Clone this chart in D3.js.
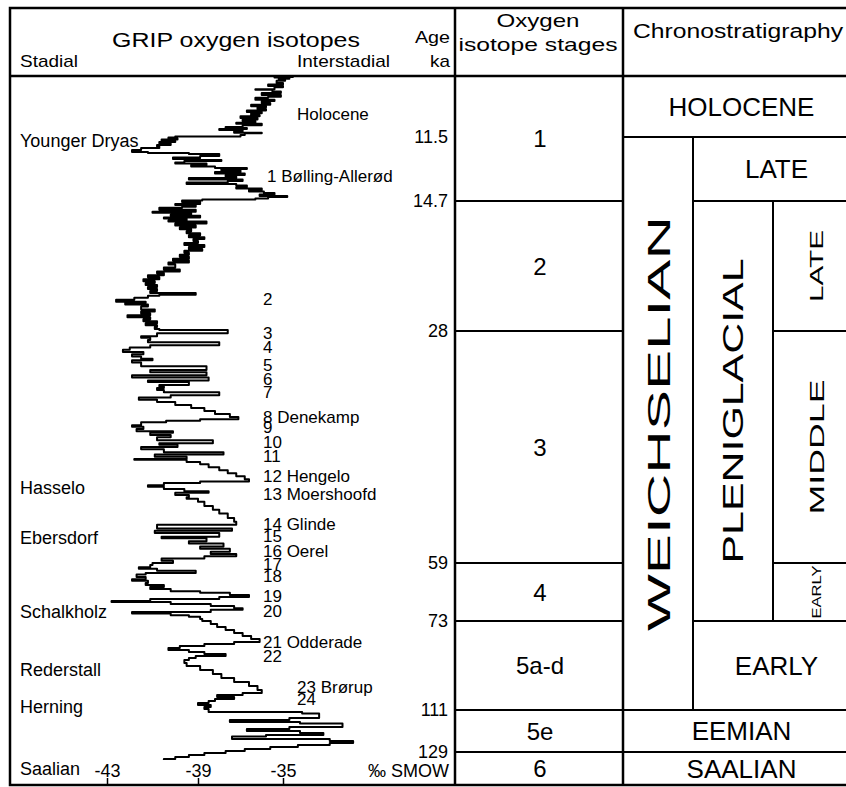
<!DOCTYPE html>
<html>
<head>
<meta charset="utf-8">
<script src="https://cdn.jsdelivr.net/npm/d3@7"></script>
<style>
body { margin: 0; background: #fff; }
svg { display: block; font-family: "Liberation Sans", Arial, Helvetica, sans-serif; }
</style>
</head>
<body>
<svg id="chart" width="846" height="787"></svg>
<script>
// GRIP d18O record: [age ka, per mil SMOW]
var grip = [
  [0.2,-34.5],[0.3,-35.4],[0.5,-34.7],[0.8,-35.2],[0.9,-34.9],[1.3,-35.3],[1.6,-35.0],[1.9,-35.7],
  [2.1,-35.0],[2.5,-35.4],[2.6,-36.3],[2.9,-35.5],[3.2,-35.1],[3.6,-36.0],[3.9,-35.1],[4.1,-35.7],
  [4.5,-36.3],[4.7,-35.4],[5.1,-36.0],[5.4,-35.6],[5.7,-36.5],[5.9,-35.8],[6.2,-36.2],[6.5,-35.8],
  [6.8,-36.7],[7.0,-36.0],[7.4,-36.5],[7.6,-36.1],[7.9,-37.0],[8.2,-36.2],[8.5,-36.9],[8.8,-36.3],
  [9.0,-37.2],[9.3,-36.0],[9.6,-36.9],[9.8,-37.7],[10.0,-36.7],[10.2,-38.0],[10.4,-36.9],[10.7,-37.3],
  [10.8,-36.0],[11.1,-36.8],[11.4,-37.0],
  [11.52,-40.0],[11.58,-40.3],[11.63,-39.9],[11.7,-40.6],[11.75,-40.0],[11.83,-40.7],[11.9,-40.2],
  [11.98,-40.8],[12.05,-40.7],[12.15,-41.5],[12.25,-41.9],[12.3,-41.2],[12.35,-39.4],[12.45,-38.0],
  [12.53,-38.9],[12.6,-40.1],[12.65,-38.9],[12.7,-37.9],[12.78,-39.6],[12.83,-40.0],[12.9,-38.6],
  [12.98,-39.3],[13.05,-38.2],[13.1,-36.7],[13.18,-37.9],[13.25,-37.0],[13.33,-38.2],[13.4,-36.8],
  [13.48,-37.7],[13.55,-37.2],[13.63,-39.4],[13.7,-36.9],[13.78,-37.6],[13.85,-39.5],[13.93,-37.2],
  [14.0,-36.7],[14.08,-37.2],[14.15,-36.0],[14.23,-36.6],[14.3,-35.9],[14.38,-35.4],[14.45,-36.1],
  [14.5,-34.8],[14.58,-35.7],[14.63,-36.3],[14.68,-38.8],
  [14.8,-39.7],[15.0,-38.9],[15.1,-40.0],[15.3,-39.1],[15.4,-39.7],[15.6,-40.7],[15.8,-39.1],
  [15.9,-41.0],[16.1,-39.3],[16.2,-40.2],[16.4,-38.9],[16.5,-40.5],[16.7,-39.5],[16.8,-40.3],
  [17.0,-38.6],[17.2,-40.0],[17.4,-39.1],[17.6,-39.8],[17.8,-39.3],[18.0,-39.5],[18.2,-38.9],
  [18.4,-39.4],[18.6,-38.7],[18.8,-39.2],[19.0,-39.0],[19.2,-39.6],[19.4,-38.7],[19.6,-39.4],
  [19.8,-38.8],[20.0,-39.6],[20.2,-39.4],[20.4,-39.8],[20.6,-39.4],[20.8,-40.1],[21.0,-39.4],
  [21.2,-40.3],[21.5,-40.0],[21.7,-40.5],[21.9,-39.8],[22.1,-40.8],[22.3,-40.5],[22.5,-41.2],
  [22.7,-40.7],[22.9,-41.4],[23.1,-40.9],[23.3,-41.3],[23.5,-40.8],[23.7,-41.2],[23.9,-40.8],
  [24.1,-41.1],[24.3,-39.1],[24.4,-40.7],[24.6,-41.2],[24.8,-41.8],[25.0,-42.6],[25.1,-41.3],
  [25.3,-42.2],[25.5,-41.2],[25.8,-41.5],[26.0,-40.9],[26.2,-41.5],[26.4,-41.1],[26.6,-42.1],
  [26.8,-41.1],[27.0,-41.4],[27.2,-40.8],[27.4,-41.3],[27.6,-40.8],[27.8,-40.9],[27.9,-40.7],
  [28.3,-37.6],[28.7,-40.8],[28.9,-41.5],[29.2,-41.1],[29.5,-41.2],[29.9,-38.0],[30.2,-41.1],
  [30.5,-42.0],[30.8,-42.3],[31.1,-41.4],[31.4,-41.9],[31.7,-41.5],[31.9,-41.0],[32.2,-41.9],
  [32.5,-41.5],[32.7,-41.5],[33.2,-38.6],[33.5,-41.1],[33.9,-38.6],[34.2,-41.9],[34.6,-38.5],
  [34.8,-41.2],[35.2,-39.4],[35.4,-40.7],[35.6,-40.5],[35.9,-40.8],[36.2,-40.5],[36.6,-38.0],
  [36.9,-40.2],[37.2,-41.6],[37.5,-40.8],[37.9,-40.0],[38.3,-39.3],[38.7,-38.7],[39.1,-38.2],
  [39.5,-37.5],[39.8,-37.1],[40.0,-38.9],[40.2,-40.4],[40.6,-41.5],[40.8,-41.9],[41.1,-41.4],
  [41.4,-41.7],[41.6,-40.1],[41.9,-41.1],[42.2,-40.2],[42.6,-40.8],[43.0,-38.3],[43.2,-40.7],
  [43.5,-39.9],[43.8,-41.5],[44.2,-40.5],[44.5,-37.8],[44.8,-40.9],[45.1,-39.5],[45.2,-41.8],
  [45.5,-39.5],[45.8,-38.9],[46.2,-38.5],[46.6,-38.0],[47.0,-37.6],[47.4,-37.2],[47.8,-36.8],
  [48.1,-36.6],[48.3,-38.9],[48.6,-40.5],[48.8,-41.2],[49.1,-40.5],[49.4,-39.6],[49.6,-38.5],
  [49.9,-40.0],[50.2,-39.4],[50.4,-39.5],[50.8,-39.0],[51.4,-38.7],[51.9,-38.3],[52.4,-38.0],
  [53.0,-37.6],[53.5,-37.3],[53.9,-37.2],[54.4,-40.8],[54.7,-37.4],[55.0,-40.9],[55.5,-38.0],
  [55.7,-40.6],[56.1,-38.6],[56.4,-39.4],[56.8,-37.8],[57.1,-38.9],[57.5,-37.5],[57.8,-38.4],
  [58.1,-37.2],[58.4,-38.7],[58.7,-40.6],[59.0,-40.1],
  [59.5,-41.0],[60.0,-41.1],[60.4,-41.6],[60.9,-40.8],[61.4,-39.1],[61.8,-41.3],[62.4,-41.7],
  [62.9,-41.3],[63.3,-41.9],[63.8,-41.2],[64.3,-41.3],[64.8,-40.5],[65.3,-41.1],[65.8,-40.2],
  [66.2,-38.9],[66.7,-37.5],[67.2,-36.6],[67.7,-38.0],[68.2,-41.1],[68.4,-42.8],[68.9,-40.2],
  [69.4,-38.4],[69.9,-37.3],[70.3,-36.9],[70.8,-38.4],[71.2,-41.9],[71.6,-40.2],[72.0,-39.4],
  [72.5,-38.9],[73.0,-38.8],
  [74.3,-38.4],[75.6,-38.1],[76.8,-37.7],[78.1,-37.3],[79.4,-36.9],[80.7,-36.5],[82.0,-36.1],
  [82.8,-37.3],[83.7,-38.7],[84.5,-39.8],[85.4,-40.3],[86.2,-39.4],[87.1,-38.7],[87.9,-37.7],
  [88.8,-39.1],[89.7,-39.4],[90.9,-39.6],[92.2,-39.5],[93.9,-38.9],[95.6,-38.3],[97.3,-37.9],
  [99.0,-37.3],[100.8,-36.6],[102.5,-36.2],[103.7,-36.0],[104.6,-36.9],[105.5,-38.1],[106.3,-37.3],
  [107.2,-38.2],[108.0,-38.5],[108.9,-39.0],[109.7,-38.4],[110.6,-38.7],
  [111.9,-38.5],[112.5,-34.1],[114.4,-33.3],[115.3,-34.7],[116.1,-37.5],[116.8,-34.2],[118.3,-32.2],
  [119.1,-34.7],[120.0,-36.7],[120.9,-34.2],[121.7,-33.1],[122.4,-35.8],[123.4,-37.4],[124.3,-32.8],
  [125.1,-31.7],[126.0,-32.8],[126.9,-34.3],[127.7,-35.6],[128.6,-36.8],[129.4,-37.7],[130.3,-38.7],
  [131.1,-39.4],[132.0,-40.0],[132.4,-40.5]
];

var ageTicks = [11.5, 14.7, 28, 59, 73, 111, 129];
var isoTicks = [-43, -39, -35];

var stageNames  = ['1', '2', '3', '4', '5a-d', '5e', '6'];
var stageBounds = [0, 14.7, 28, 59, 73, 111, 129, 143];

// chronostratigraphic units; col = first sub-column, span = number of sub-columns
var chronoNames = ['HOLOCENE', 'WEICHSELIAN', 'LATE', 'PLENIGLACIAL', 'LATE', 'MIDDLE', 'EARLY', 'EARLY', 'EEMIAN', 'SAALIAN'];
var chronoFrom  = [0, 11.5, 11.5, 14.7, 14.7, 28, 59, 73, 111, 129];
var chronoTo    = [11.5, 111, 14.7, 73, 28, 59, 73, 111, 129, 143];
var chronoCol   = [0, 0, 1, 1, 2, 2, 2, 1, 0, 0];
var chronoSpan  = [3, 1, 2, 1, 1, 1, 1, 2, 3, 3];

var stadials = [
  ['Younger Dryas', 12.0], ['Hasselo', 49.8], ['Ebersdorf', 56.5], ['Schalkholz', 72.3],
  ['Rederstall', 96.5], ['Herning', 112.3], ['Saalian', 138.9]
];
var interstadials = [
  ['Holocene', 8.3], ['1 Bølling-Allerød', 13.75], ['2', 25.3], ['3', 29.1], ['4', 30.9],
  ['5', 33.4], ['6', 35.2], ['7', 37.0], ['8 Denekamp', 40.3], ['9', 41.6], ['10', 43.6],
  ['11', 45.5], ['12 Hengelo', 48.2], ['13 Moershoofd', 50.6], ['14 Glinde', 54.6],
  ['15', 56.2], ['16 Oerel', 58.2], ['17', 60.7], ['18', 63.6], ['19', 68.4], ['20', 72.0],
  ['21 Odderade', 84.5], ['22', 90.5], ['23 Brørup', 103.7], ['24', 108.9]
];

var svg = d3.select('#chart');

// age axis is stretched piecewise, like the depth-based original
var y = d3.scaleLinear()
  .domain([0].concat(ageTicks, [143]))
  .range([76, 137, 201, 331, 563, 621, 710, 752, 785]);

var x = d3.scaleLinear()
  .domain(isoTicks)
  .range([107, 198, 283]);

var colStage = [455, 623];
var chronoEdges = [623, 693, 773, 860];

function fitText(g, str, px, py, size, len, anchor) {
  return g.append('text')
    .attr('x', px).attr('y', py)
    .attr('font-size', size)
    .attr('text-anchor', anchor || 'start')
    .attr('textLength', len)
    .attr('lengthAdjust', 'spacingAndGlyphs')
    .text(str);
}

// stage boxes
var stages = svg.append('g');
stageNames.forEach(function(name, i) {
  var y0 = y(stageBounds[i]), y1 = y(stageBounds[i + 1]);
  stages.append('rect')
    .attr('x', colStage[0]).attr('y', y0)
    .attr('width', colStage[1] - colStage[0]).attr('height', y1 - y0)
    .attr('fill', 'none').attr('stroke', '#000').attr('stroke-width', 2);
  stages.append('text')
    .attr('x', (colStage[0] + colStage[1]) / 2 + 1)
    .attr('y', (y0 + y1) / 2).attr('dy', '0.36em')
    .attr('text-anchor', 'middle').attr('font-size', 24)
    .text(name);
});

// chronostratigraphy boxes
var vertSize = {WEICHSELIAN: [32, 415], PLENIGLACIAL: [29, 305], LATE: [18, 72], MIDDLE: [20, 135], EARLY: [13, 53]};
var chrono = svg.append('g');
chronoNames.forEach(function(name, i) {
  var x0 = chronoEdges[chronoCol[i]], x1 = chronoEdges[chronoCol[i] + chronoSpan[i]];
  var y0 = y(chronoFrom[i]), y1 = y(chronoTo[i]);
  chrono.append('rect')
    .attr('x', x0).attr('y', y0)
    .attr('width', x1 - x0).attr('height', y1 - y0)
    .attr('fill', 'none').attr('stroke', '#000').attr('stroke-width', 2);
  var cx = (x0 + x1) / 2, cy = (y0 + y1) / 2;
  if (chronoSpan[i] === 1) {
    var s = vertSize[name];
    fitText(chrono, name, 0, 0, s[0], s[1], 'middle')
      .attr('dy', '0.36em')
      .attr('transform', 'translate(' + cx + ',' + cy + ') rotate(-90)');
  } else {
    chrono.append('text')
      .attr('x', cx).attr('y', cy).attr('dy', '0.36em')
      .attr('text-anchor', 'middle').attr('font-size', 26)
      .text(name);
  }
});

// frame
var frame = svg.append('g').attr('stroke', '#000').attr('stroke-width', 2.5).attr('fill', 'none');
frame.append('rect').attr('x', 10).attr('y', 8).attr('width', 850).attr('height', 777);
frame.append('line').attr('x1', 10).attr('x2', 860).attr('y1', 76).attr('y2', 76);
colStage.forEach(function(cx) {
  frame.append('line').attr('x1', cx).attr('x2', cx).attr('y1', 8).attr('y2', 785);
});

// header
var head = svg.append('g');
fitText(head, 'GRIP oxygen isotopes', 112, 47, 20, 248);
fitText(head, 'Stadial', 20, 67, 17, 58);
fitText(head, 'Interstadial', 297, 67, 17, 93);
fitText(head, 'Age', 450, 43, 17, 35, 'end');
fitText(head, 'ka', 450, 67, 17, 20, 'end');
fitText(head, 'Oxygen', 538, 27, 19, 83, 'middle');
fitText(head, 'isotope stages', 538, 51, 19, 159, 'middle');
fitText(head, 'Chronostratigraphy', 633, 38, 20, 210);

// isotope curve, drawn as steps like the sampled original
var line = d3.line()
  .curve(d3.curveStepAfter)
  .x(function(d) { return x(d[1]); })
  .y(function(d) { return y(d[0]); });

svg.append('path')
  .datum(grip)
  .attr('d', line)
  .attr('fill', 'none')
  .attr('stroke', '#000')
  .attr('stroke-width', 2)
  .attr('stroke-linejoin', 'round');

// age axis
svg.append('g')
  .attr('transform', 'translate(455,0)')
  .call(d3.axisLeft(y).tickValues(ageTicks).tickSize(0).tickPadding(7).tickFormat(d3.format('')))
  .attr('font-family', null).attr('font-size', 18)
  .call(function(g) { g.select('.domain').remove(); });

// isotope axis along the bottom
svg.append('g')
  .attr('transform', 'translate(0,785)')
  .call(d3.axisTop(x).tickValues(isoTicks).tickSize(7).tickPadding(1).tickFormat(function(d) { return String(d); }))
  .attr('font-family', null).attr('font-size', 18)
  .call(function(g) {
    g.select('.domain').remove();
    g.selectAll('.tick line').attr('stroke-width', 1.5);
  });

svg.append('text')
  .attr('x', 449).attr('y', 777)
  .attr('text-anchor', 'end').attr('font-size', 18)
  .text('‰ SMOW');

// event labels
svg.append('g').selectAll('text')
  .data(stadials)
  .join('text')
  .attr('x', 20)
  .attr('y', function(d) { return y(d[1]); })
  .attr('font-size', 18)
  .text(function(d) { return d[0]; });

var labelShift = {'Holocene': 34, '1 Bølling-Allerød': 4, '23 Brørup': 34, '24': 34};
svg.append('g').selectAll('text')
  .data(interstadials)
  .join('text')
  .attr('x', function(d) { return 263 + (labelShift[d[0]] || 0); })
  .attr('y', function(d) { return y(d[1]); })
  .attr('font-size', 17)
  .text(function(d) { return d[0]; });
</script>
</body>
</html>
